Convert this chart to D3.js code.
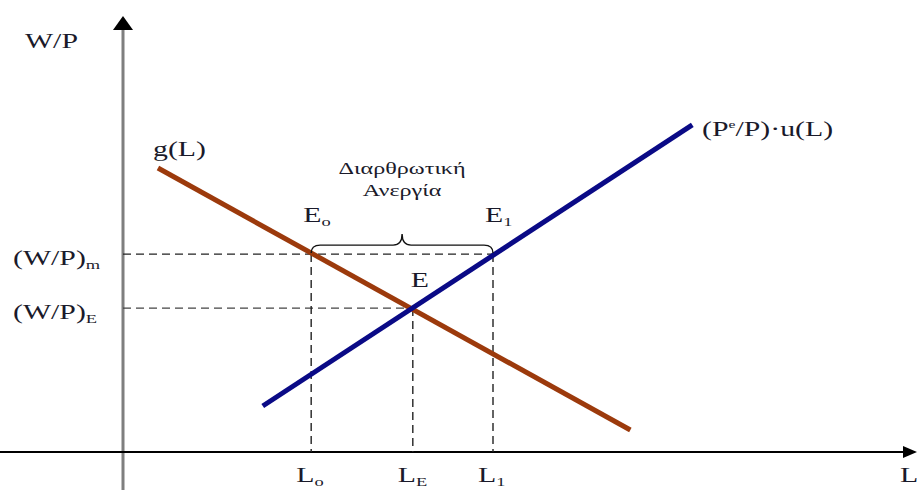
<!DOCTYPE html>
<html><head><meta charset="utf-8">
<script src="https://cdn.jsdelivr.net/npm/d3@7"></script>
<style>body{margin:0;background:#fff}svg{display:block}text{font-family:"Liberation Serif","Times New Roman",serif;fill:#1a1a2a}</style>
</head><body><svg id="c" width="917" height="490"></svg>
<script>
// data (L in employment units, w in real-wage units)
const gLine = [{L:4.4, w:67.3},{L:63.9, w:5.2}];          // g(L)
const uLine = [{L:17.6, w:10.9},{L:71.7, w:77.5}];        // (Pe/P)·u(L)
const wageLevels = [46.9, 34.1];                         // (W/P)m, (W/P)E
const wageLabels = [["(W/P)","m"],["(W/P)","E"]];
const employment = [23.7, 36.5, 46.6];                   // Lo, LE, L1
const empLabels = [["L","o"],["L","E"],["L","1"]];
const empLevel = [46.9, 34.1, 46.9];                     // wage at each vertical guide
const pointLabels = [["E","o",23.7,46.9],["E","",36.5,34.1],["E","1",46.6,46.9]];
const braceText = ["Διαρθρωτική","Ανεργία"];

const svg = d3.select("#c");
const x = d3.scaleLinear().domain([0,100]).range([123,917]);
const y = d3.scaleLinear().domain([0,100]).range([452,30]);
const SX = 1.42;

function label(px, py, main, sub, size, sup){
  const t = svg.append("text").attr("transform",`translate(${px},${py}) scale(${SX},1)`)
    .style("font-size", size+"px");
  t.append("tspan").text(main);
  if (sup){ t.append("tspan").attr("dy",-8).style("font-size","11px").text(sup.s);
            t.append("tspan").attr("dy",8).text(sup.rest); }
  if (sub) t.append("tspan").attr("dy",4).style("font-size","13px").text(sub);
  return t;
}

// axes
svg.append("line").attr("x1",x(0)).attr("x2",x(0)).attr("y1",28).attr("y2",490)
  .attr("stroke","#7f7f7f").attr("stroke-width",3);
svg.append("path").attr("d",`M${x(0)},16 L${x(0)-10},30 L${x(0)+10},30 Z`).attr("fill","#000");
svg.append("line").attr("x1",0).attr("x2",905).attr("y1",y(0)).attr("y2",y(0))
  .attr("stroke","#000").attr("stroke-width",2);
svg.append("path").attr("d",`M917,${y(0)} L903,${y(0)-6} L903,${y(0)+6} Z`).attr("fill","#000");

// dashed guides
const dash = "8,5";
svg.append("line").attr("x1",x(0)).attr("x2",x(employment[2])).attr("y1",y(wageLevels[0])).attr("y2",y(wageLevels[0]))
  .attr("stroke","#222").attr("stroke-width",1.4).attr("stroke-dasharray",dash);
svg.append("line").attr("x1",x(0)).attr("x2",x(employment[1])).attr("y1",y(wageLevels[1])).attr("y2",y(wageLevels[1]))
  .attr("stroke","#444").attr("stroke-width",1.4).attr("stroke-dasharray",dash);
employment.forEach((L,i)=>{
  svg.append("line").attr("x1",x(L)).attr("x2",x(L)).attr("y1",y(empLevel[i])).attr("y2",y(0))
    .attr("stroke","#222").attr("stroke-width",1.4).attr("stroke-dasharray",dash);
});

// curves
const line = d3.line().x(d=>x(d.L)).y(d=>y(d.w));
svg.append("path").attr("d",line(gLine)).attr("stroke","#9c3a0c").attr("stroke-width",5).attr("fill","none");
svg.append("path").attr("d",line(uLine)).attr("stroke","#0a0a86").attr("stroke-width",5).attr("fill","none");

// brace
const bx0 = x(employment[0]), bx1 = x(employment[2]), by = y(wageLevels[0]) - 1, bm = (bx0+bx1)/2;
svg.append("path").attr("fill","none").attr("stroke","#111").attr("stroke-width",1.4)
  .attr("d",`M${bx0},${by} Q${bx0},${by-8} ${bx0+9},${by-8} L${bm-9},${by-8} Q${bm},${by-8} ${bm},${by-19} Q${bm},${by-8} ${bm+9},${by-8} L${bx1-9},${by-8} Q${bx1},${by-8} ${bx1},${by}`);

// labels
label(25,48,"W/P",null,21);
label(153,156,"g(L)",null,21);
label(702,136,"(P",null,21,{s:"e",rest:"/P)·u(L)"});
wageLabels.forEach((w,i)=>label(13, y(wageLevels[i])+11, w[0], w[1], 21));
empLabels.forEach((l,i)=>label(x(employment[i])-15, 482, l[0], l[1], 21));
label(900,482,"L",null,21);
pointLabels.forEach(p=>label(x(p[2])-(p[1]?8:2), p[1]? 222 : 287, p[0], p[1], 21));
braceText.forEach((s,i)=>{
  svg.append("text").attr("transform",`translate(${bm},${174+i*22}) scale(${SX},1)`)
    .attr("text-anchor","middle").style("font-size","17px").text(s);
});
</script></body></html>
